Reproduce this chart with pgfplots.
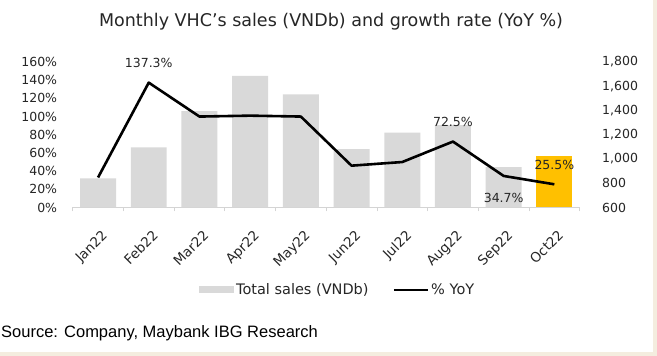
\documentclass[border=0pt]{standalone}
\usepackage{fontspec}
\setmainfont{DejaVu Sans}
\newfontfamily\srcfont{Liberation Sans}
\usepackage{pgfplots}
\pgfplotsset{compat=1.18}
\definecolor{bargray}{HTML}{D9D9D9}
\definecolor{baryel}{HTML}{FFC000}
\definecolor{beige}{HTML}{F4EDDF}
\definecolor{axgray}{HTML}{D4D4D4}
\newcommand{\tf}{\fontsize{12.5}{14}\selectfont}
\newcommand{\xf}{\fontsize{13.5}{15}\selectfont}
\newcommand{\lf}{\fontsize{14.5}{16}\selectfont}
\begin{document}
\begin{tikzpicture}[x=1pt,y=1pt]
\fill[beige] (0,0) rectangle (657,356);
\fill[white] (0,4.3) rectangle (652.7,356);
\useasboundingbox (0,0) rectangle (657,356);
\node[font=\fontsize{17.5}{20}\selectfont, text=black!85] at (331,334) {Monthly VHC's sales (VNDb) and growth rate (YoY \%)};
\node[font=\srcfont\fontsize{16.5}{19}\selectfont, anchor=base west, inner sep=0pt] at (1,18) {Source: Company, Maybank IBG Research};
\begin{axis}[
  at={(72.7pt,148.5pt)}, anchor=south west,
  width=507pt, height=145.5pt, scale only axis,
  xmin=-0.5, xmax=9.5, ymin=600, ymax=1800,
  ybar, bar width=0.71,
  axis y line*=right, axis x line*=bottom,
  y axis line style={draw=none},
  x axis line style={draw=axgray, line width=0.8pt, -},
  ytick={600,800,...,1800},
  ytick style={draw=none},
  yticklabel style={font=\tf, inner sep=0pt, anchor=west, text=black!85},
  yticklabel shift=18pt,
  /pgf/number format/.cd, 1000 sep={,}, assume math mode=true, /pgfplots/.cd,
  xtick={0,...,9},
  xticklabels={Jan22,Feb22,Mar22,Apr22,May22,Jun22,Jul22,Aug22,Sep22,Oct22},
  xtick style={draw=none},
  minor xtick={-0.5,0.5,...,9.5},
  minor x tick style={draw=axgray, line width=0.8pt},
  tick align=outside, minor tick length=4pt,
  xticklabel style={font=\xf, rotate=45, anchor=north east, inner sep=0pt, text=black!85, yshift=-14pt, xshift=-10pt},
  legend style={at={(0.249,-0.567)}, anchor=west, draw=none, fill=none,
    legend columns=2, font=\lf, inner sep=0pt, text=black!85,
    /tikz/every even column/.append style={column sep=22pt}},
]
\addplot[fill=bargray, draw=none, bar shift=0pt,
  legend image code/.code={\fill[bargray] (0pt,-3.5pt) rectangle (35pt,3.5pt);}]
  coordinates {(0,840) (1,1095) (2,1395) (3,1685) (4,1534) (5,1082) (6,1217) (7,1280) (8,932)};
\addlegendentry{Total sales (VNDb)}
\addplot[fill=baryel, draw=none, bar shift=0pt, forget plot]
  coordinates {(9,1025)};
\addlegendimage{legend image code/.code={\draw[black, line width=2.6pt] (0pt,0pt) -- (34pt,0pt);}}
\addlegendentry{\% YoY}
\end{axis}
\begin{axis}[
  at={(72.7pt,148.5pt)}, anchor=south west,
  width=507pt, height=145.5pt, scale only axis,
  xmin=-0.5, xmax=9.5, ymin=0, ymax=160,
  clip=false,
  hide x axis,
  axis y line*=left,
  y axis line style={draw=none},
  ytick={0,20,...,160},
  ytick style={draw=none},
  yticklabel={\pgfmathprintnumber{\tick}\%},
  yticklabel style={font=\tf, inner sep=0pt, anchor=east, text=black!85},
  yticklabel shift=15.4pt,
  /pgf/number format/assume math mode=true,
]
\addplot[black, line width=2.6pt, line join=round, mark=none]
  coordinates {(0,33) (1,137.3) (2,100) (3,101) (4,100) (5,46) (6,50) (7,72.5) (8,34.7) (9,25.5)};
\node[font=\tf, text=black!85] at (axis cs:1,137.3) [yshift=20pt] {137.3\%};
\node[font=\tf, text=black!85] at (axis cs:7,72.5) [yshift=20pt] {72.5\%};
\node[font=\tf, text=black!85] at (axis cs:8,34.7) [yshift=-22pt] {34.7\%};
\node[font=\tf, text=black!85] at (axis cs:9,25.5) [yshift=19pt] {25.5\%};
\end{axis}
\end{tikzpicture}
\end{document}
